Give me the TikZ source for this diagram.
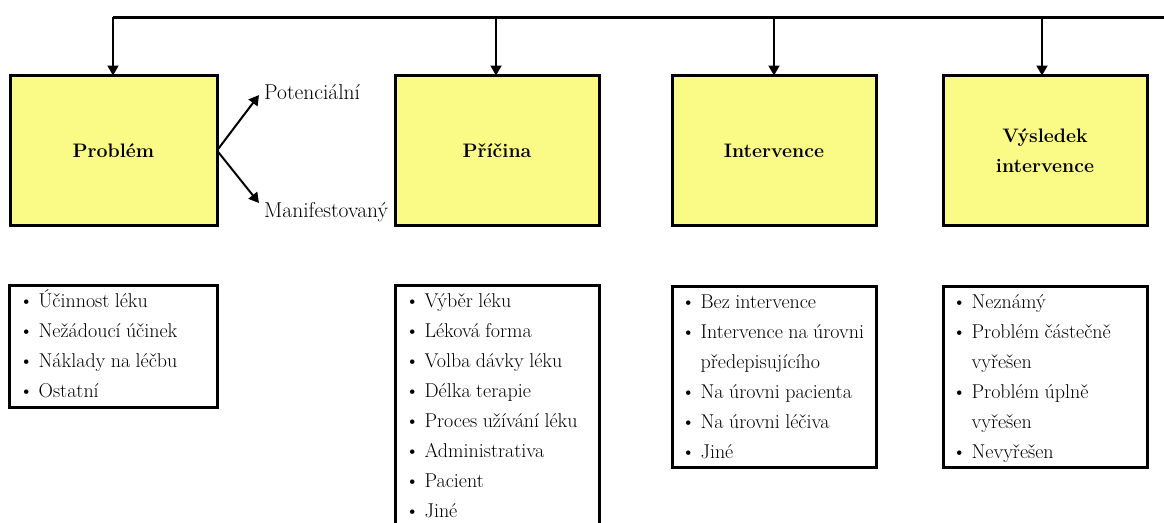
\documentclass[tikz,border=0pt]{standalone}
\usepackage{fontspec}
\usetikzlibrary{arrows.meta,calc}
\definecolor{boxyellow}{RGB}{250,250,135}
\newcommand\bul{\textbullet\hspace{0.25em}}
\begin{document}
\begin{tikzpicture}[x=1pt,y=-1pt,
  ybox/.style={draw=black, line width=3pt, fill=boxyellow, minimum width=204pt, minimum height=150pt, inner sep=0pt, outer sep=0pt, align=center, font={\fontsize{19.5}{30}\selectfont\bfseries}},
  lbox/.style={draw=black, line width=3pt, fill=white, minimum width=204pt, inner sep=0pt, outer sep=0pt, anchor=north west},
  itemtxt/.style={anchor=base west, inner sep=0pt, font={\fontsize{20}{30}\selectfont\addfontfeature{FakeBold=0.4}\spaceskip=0.27em plus 0.1em minus 0.05em\relax}},
  sidetxt/.style={itemtxt, font={\fontsize{21.5}{30}\selectfont\addfontfeature{FakeBold=0.4}}},
  arr/.style={line width=2pt, -{Triangle[width=11pt,length=10pt]}},
]
\path[use as bounding box] (0,0) rectangle (1164,522);
\clip (0,0) rectangle (1164,522);

% top boxes
\node[ybox, minimum width=207pt] (P) at (113.5,150.5) {Problém};
\node[ybox] (C) at (497,150.5) {Příčina};
\node[ybox] (I) at (774,150.5) {Intervence};
\node[ybox] (V) at (1045,150.5) {Výsledek\\intervence};

% top distribution line
\coordinate (tl) at (113,17);
\coordinate (tr) at (1170,17);
\draw[line width=3pt] (tl) -- (tr);
\coordinate (aP) at (113,17);
\coordinate (aC) at (496,17);
\coordinate (aI) at (774,17);
\coordinate (aV) at (1042,17);
\draw[arr] (aP) -- (aP |- P.north);
\draw[arr] (aC) -- (aC |- C.north);
\draw[arr] (aI) -- (aI |- I.north);
\draw[arr] (aV) -- (aV |- V.north);

% Potencialni / Manifestovany
\node[sidetxt] (pot) at (264,99) {Potenciální};
\node[sidetxt] (man) at (264,217) {Manifestovaný};
\draw[arr] (P.east) -- ($(pot.base west)+(-5,-4)$);
\draw[arr] (P.east) -- ($(man.base west)+(-5,-14)$);

% list boxes
\node[lbox, minimum width=208pt, minimum height=122pt] (PL) at (9,285) {};
\node[lbox, minimum height=242pt] (CL) at (395,285) {};
\node[lbox, minimum height=181pt] (IL) at (672,286) {};
\node[lbox, minimum height=181pt] (VL) at (943,286) {};

\foreach \t [count=\i] in {{\bul Účinnost léku}, {\bul Nežádoucí účinek}, {\bul Náklady na léčbu}, {\bul Ostatní}}
  \node[itemtxt] (pl\i) at ({19},{277+30*\i}) {\t};
\foreach \t [count=\i] in {{\bul Výběr léku}, {\bul Léková forma}, {\bul Volba dávky léku}, {\bul Délka terapie}, {\bul Proces užívání léku}, {\bul Administrativa}, {\bul Pacient}, {\bul Jiné}}
  \node[itemtxt] (cl\i) at ({405},{277+30*\i}) {\t};
\foreach \t [count=\i] in {{\bul Bez intervence}, {\bul Intervence na úrovni}, {\hphantom{\bul}předepisujícího}, {\bul Na úrovni pacienta}, {\bul Na úrovni léčiva}, {\bul Jiné}}
  \node[itemtxt] (il\i) at ({681},{278+30*\i}) {\t};
\foreach \t [count=\i] in {{\bul Neznámý}, {\bul Problém částečně}, {\hphantom{\bul}vyřešen}, {\bul Problém úplně}, {\hphantom{\bul}vyřešen}, {\bul Nevyřešen}}
  \node[itemtxt] (vl\i) at ({952},{278+30*\i}) {\t};
\end{tikzpicture}
\end{document}
